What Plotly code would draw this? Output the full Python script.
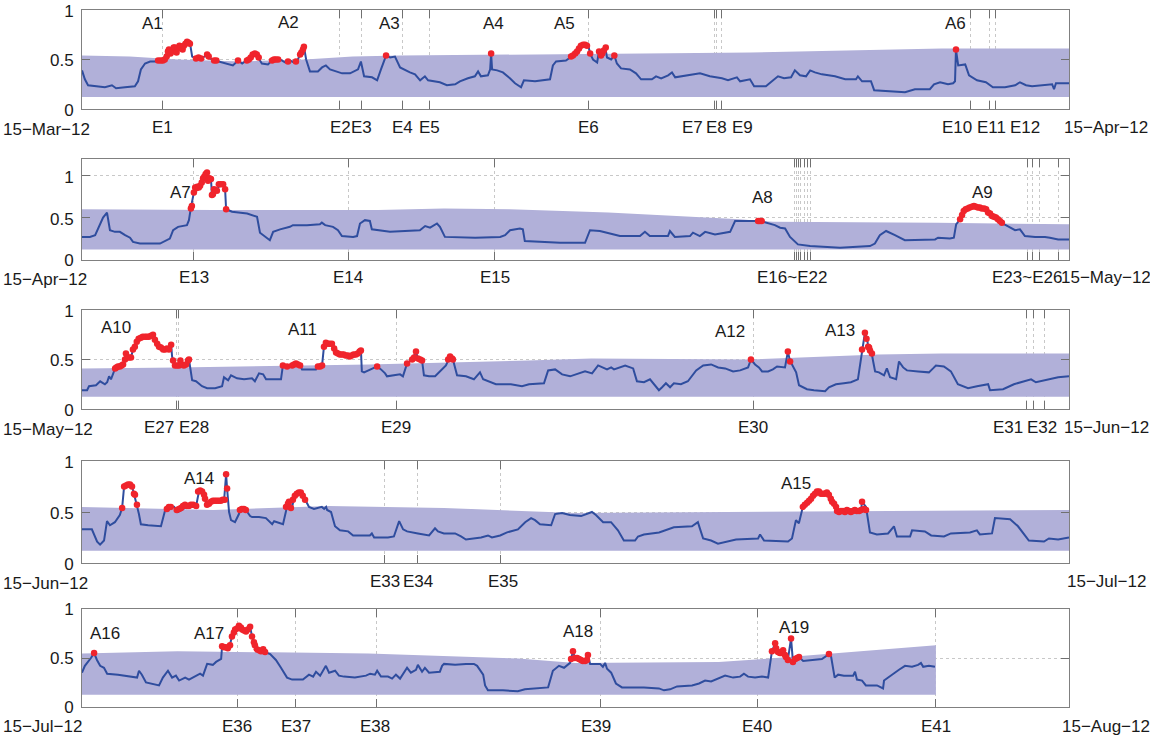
import plotly.graph_objects as go

FONT = "Liberation Sans, Arial, sans-serif"
TXT_C = "#1a1a1a"
LINE_C = "#2f4d9e"
BAND_C = "#b1b0d9"
DOT_C = "#f0242c"
AX_C = "#808080"
GRID_C = "#c8c8c8"

# ---------------- Panel 1: 15-Mar-12 .. 15-Apr-12 (days since start) -------------
p1_line = [(0.00,0.39),(0.09,0.30),(0.19,0.24),(0.41,0.23),(0.72,0.22),(0.94,0.24),(1.07,0.21),(1.35,0.22),(1.66,0.23),(1.76,0.28),(1.85,0.40),(1.98,0.46),(2.14,0.48),(2.45,0.48),(2.54,0.50),(2.64,0.55),(2.73,0.60),(2.83,0.57),(2.92,0.62),(3.02,0.60),(3.11,0.64),(3.20,0.62),(3.30,0.68),(3.39,0.67),(3.46,0.53),(3.58,0.51),(3.80,0.52),(3.93,0.55),(4.02,0.51),(4.18,0.49),(4.40,0.47),(4.65,0.45),(4.74,0.44),(4.90,0.49),(5.03,0.46),(5.21,0.50),(5.34,0.53),(5.43,0.56),(5.53,0.52),(5.65,0.46),(5.84,0.45),(6.00,0.50),(6.22,0.50),(6.38,0.47),(6.53,0.49),(6.66,0.47),(6.75,0.48),(6.85,0.55),(6.91,0.58),(6.97,0.63),(7.04,0.50),(7.16,0.38),(7.41,0.38),(7.54,0.42),(7.66,0.44),(7.79,0.40),(7.98,0.38),(8.17,0.36),(8.42,0.36),(8.54,0.38),(8.67,0.40),(8.76,0.48),(8.86,0.33),(9.11,0.32),(9.27,0.29),(9.39,0.40),(9.49,0.50),(9.55,0.54),(9.68,0.52),(9.83,0.53),(9.99,0.42),(10.15,0.39),(10.30,0.37),(10.46,0.35),(10.62,0.29),(10.77,0.33),(10.87,0.29),(11.24,0.27),(11.46,0.24),(11.72,0.25),(11.87,0.28),(12.12,0.31),(12.34,0.33),(12.44,0.38),(12.53,0.33),(12.75,0.34),(12.82,0.40),(12.85,0.56),(12.88,0.40),(13.04,0.39),(13.22,0.37),(13.44,0.31),(13.60,0.26),(13.79,0.22),(13.88,0.29),(14.23,0.28),(14.54,0.29),(14.70,0.30),(14.79,0.44),(14.89,0.48),(15.20,0.49),(15.36,0.52),(15.42,0.54),(15.52,0.57),(15.61,0.60),(15.71,0.63),(15.80,0.65),(15.90,0.64),(15.96,0.56),(16.05,0.50),(16.18,0.47),(16.24,0.59),(16.30,0.54),(16.37,0.57),(16.43,0.63),(16.49,0.52),(16.62,0.50),(16.72,0.54),(16.80,0.46),(16.93,0.41),(17.21,0.40),(17.40,0.36),(17.56,0.30),(17.90,0.30),(18.03,0.33),(18.19,0.31),(18.41,0.34),(18.53,0.37),(18.63,0.32),(19.10,0.34),(19.41,0.36),(19.72,0.33),(20.10,0.31),(20.29,0.29),(20.57,0.32),(20.67,0.28),(20.98,0.30),(21.11,0.23),(21.48,0.23),(21.67,0.28),(21.86,0.33),(22.05,0.31),(22.27,0.32),(22.39,0.39),(22.55,0.34),(22.74,0.33),(22.87,0.39),(23.02,0.37),(23.24,0.35),(23.65,0.33),(23.97,0.30),(24.31,0.30),(24.37,0.33),(24.50,0.28),(24.78,0.28),(24.88,0.19),(25.38,0.18),(25.85,0.17),(26.16,0.20),(26.63,0.20),(26.76,0.25),(26.95,0.27),(27.20,0.25),(27.36,0.26),(27.42,0.28),(27.45,0.60),(27.52,0.44),(27.74,0.45),(27.86,0.34),(28.11,0.29),(28.39,0.27),(28.61,0.22),(28.99,0.22),(29.31,0.24),(29.46,0.27),(29.65,0.24),(29.84,0.23),(30.25,0.24),(30.47,0.25),(30.53,0.20),(30.59,0.26),(31.00,0.26)]
p1_anom = [(2.39,0.49),(2.47,0.49),(2.54,0.49),(2.60,0.50),(2.66,0.53),(2.70,0.58),(2.73,0.60),(2.78,0.56),(2.83,0.58),(2.88,0.62),(2.92,0.62),(2.97,0.57),(3.02,0.61),(3.06,0.64),(3.11,0.63),(3.16,0.60),(3.20,0.64),(3.25,0.66),(3.30,0.68),(3.35,0.67),(3.39,0.66),(3.58,0.51),(3.66,0.52),(3.74,0.51),(3.93,0.55),(3.98,0.53),(4.15,0.49),(4.22,0.49),(4.90,0.49),(5.18,0.49),(5.24,0.50),(5.30,0.52),(5.36,0.55),(5.43,0.56),(5.49,0.55),(5.55,0.52),(5.97,0.49),(6.03,0.50),(6.09,0.50),(6.16,0.50),(6.47,0.48),(6.72,0.48),(6.85,0.55),(6.89,0.57),(6.94,0.60),(6.97,0.63),(9.55,0.54),(12.85,0.56),(15.36,0.53),(15.42,0.54),(15.49,0.56),(15.55,0.58),(15.61,0.61),(15.67,0.64),(15.74,0.65),(15.80,0.65),(15.86,0.64),(15.96,0.56),(16.24,0.58),(16.30,0.54),(16.34,0.56),(16.39,0.59),(16.45,0.62),(16.72,0.54),(27.45,0.60)]
p1_band_t = [0, 1.5, 3, 5, 7, 8.5, 10, 14, 18, 21, 24, 27, 31]
p1_band_hi = [0.54, 0.53, 0.50, 0.48, 0.50, 0.53, 0.54, 0.55, 0.56, 0.57, 0.59, 0.61, 0.61]
p1_band_lo = [0.12, 0.12, 0.12, 0.12, 0.12, 0.12, 0.12, 0.12, 0.12, 0.12, 0.12, 0.12, 0.12]
p1_events = [2.54, 8.10, 8.79, 10.08, 10.90, 15.92, 19.88, 19.94, 20.10, 27.91, 28.50, 28.68]
p1_elabels = [("E1",2.54),("E2",8.12),("E3",8.79),("E4",10.08),("E5",10.90),("E6",15.92),("E7",19.16),("E8",19.94),("E9",20.75),("E10",27.48),("E11",28.55),("E12",29.62)]
p1_alabels = [("A1",2.20,0.86),("A2",6.50,0.87),("A3",9.67,0.86),("A4",12.91,0.865),("A5",15.17,0.86),("A6",27.44,0.86)]

# ---------------- Panel 2: 15-Apr-12 .. 15-May-12 -------------
p2_line = [(0,0.27),(0.24,0.27),(0.40,0.29),(0.55,0.41),(0.64,0.50),(0.76,0.56),(0.85,0.35),(1.00,0.33),(1.15,0.33),(1.31,0.29),(1.46,0.26),(1.55,0.21),(1.76,0.19),(2.37,0.19),(2.46,0.21),(2.67,0.25),(2.77,0.35),(2.92,0.39),(3.19,0.41),(3.25,0.47),(3.31,0.62),(3.40,0.80),(3.50,0.87),(3.59,0.87),(3.68,0.93),(3.74,0.98),(3.80,1.04),(3.83,0.94),(3.92,0.96),(3.95,0.77),(4.04,0.84),(4.10,0.82),(4.19,0.90),(4.32,0.90),(4.35,0.84),(4.38,0.60),(4.56,0.57),(5.02,0.55),(5.32,0.51),(5.41,0.32),(5.56,0.27),(5.71,0.23),(5.81,0.33),(6.02,0.36),(6.32,0.39),(6.41,0.41),(6.84,0.41),(7.23,0.42),(7.29,0.44),(7.39,0.41),(7.63,0.39),(7.78,0.35),(7.90,0.28),(8.24,0.27),(8.36,0.28),(8.45,0.43),(8.60,0.47),(8.75,0.46),(8.81,0.36),(9.06,0.35),(9.36,0.33),(10.27,0.35),(10.43,0.40),(10.58,0.38),(10.79,0.43),(10.88,0.39),(11.03,0.27),(11.95,0.26),(12.71,0.27),(12.86,0.29),(13.01,0.35),(13.31,0.37),(13.40,0.36),(13.46,0.22),(14.53,0.20),(15.29,0.20),(15.44,0.35),(15.74,0.34),(16.35,0.28),(16.96,0.28),(17.11,0.33),(17.26,0.28),(17.81,0.28),(17.87,0.34),(18.02,0.27),(18.48,0.28),(18.57,0.32),(18.78,0.28),(18.94,0.33),(19.24,0.30),(19.70,0.33),(19.85,0.46),(20.30,0.46),(20.52,0.46),(20.70,0.45),(21.06,0.41),(21.22,0.38),(21.37,0.37),(21.52,0.27),(21.76,0.18),(22.13,0.16),(23.04,0.14),(23.95,0.16),(24.10,0.19),(24.25,0.29),(24.44,0.34),(24.71,0.29),(25.01,0.23),(25.93,0.24),(26.02,0.26),(26.38,0.25),(26.50,0.26),(26.57,0.42),(26.69,0.48),(26.75,0.57),(26.90,0.60),(27.14,0.64),(27.29,0.62),(27.45,0.61),(27.60,0.56),(27.78,0.50),(27.96,0.43),(28.08,0.41),(28.36,0.35),(28.51,0.36),(28.66,0.28),(28.97,0.27),(29.27,0.27),(29.42,0.26),(29.67,0.24),(30.00,0.24)]
p2_anom = [(3.31,0.61),(3.34,0.64),(3.40,0.80),(3.44,0.86),(3.47,0.85),(3.50,0.87),(3.55,0.86),(3.59,0.88),(3.64,0.92),(3.68,0.97),(3.72,0.99),(3.76,1.02),(3.80,1.04),(3.83,0.94),(3.87,0.97),(3.92,0.96),(3.95,0.77),(3.98,0.78),(4.01,0.84),(4.05,0.83),(4.10,0.82),(4.16,0.90),(4.22,0.90),(4.29,0.90),(4.35,0.84),(4.38,0.60),(20.55,0.46),(20.60,0.46),(20.66,0.46),(26.69,0.48),(26.75,0.53),(26.80,0.58),(26.86,0.60),(26.92,0.61),(26.98,0.62),(27.05,0.63),(27.11,0.64),(27.17,0.63),(27.23,0.62),(27.29,0.62),(27.35,0.61),(27.42,0.61),(27.48,0.60),(27.54,0.56),(27.60,0.55),(27.66,0.52),(27.72,0.51),(27.78,0.50),(27.84,0.48),(27.90,0.46),(27.96,0.44)]
p2_band_t = [0, 4, 9, 11, 13, 16, 20, 21, 26, 30]
p2_band_hi = [0.60, 0.59, 0.59, 0.61, 0.60, 0.56, 0.48, 0.45, 0.44, 0.42]
p2_band_lo = [0.12, 0.12, 0.12, 0.12, 0.12, 0.12, 0.12, 0.12, 0.12, 0.12]
p2_events = [3.40, 8.09, 12.55, 21.67, 21.73, 21.79, 21.85, 21.95, 22.04, 22.13, 28.75, 28.88, 29.09, 29.67]
p2_elabels = [("E13",3.40),("E14",8.09),("E15",12.55),("E16~E22",21.58),("E23~E26",28.72)]
p2_alabels = [("A7",2.98,0.80),("A8",20.67,0.74),("A9",27.36,0.80)]

# ---------------- Panel 3: 15-May-12 .. 15-Jun-12 -------------
p3_line = [(0,0.19),(0.16,0.19),(0.22,0.23),(0.44,0.24),(0.57,0.28),(0.72,0.25),(0.79,0.27),(0.85,0.33),(0.91,0.30),(1.04,0.41),(1.19,0.43),(1.32,0.46),(1.38,0.56),(1.44,0.52),(1.54,0.52),(1.60,0.60),(1.66,0.63),(1.76,0.70),(1.88,0.73),(2.07,0.73),(2.26,0.75),(2.36,0.66),(2.48,0.63),(2.61,0.60),(2.70,0.61),(2.80,0.65),(2.83,0.53),(2.89,0.45),(3.02,0.44),(3.09,0.49),(3.17,0.44),(3.30,0.44),(3.36,0.50),(3.46,0.29),(3.58,0.28),(3.77,0.23),(3.93,0.21),(4.18,0.21),(4.40,0.23),(4.46,0.32),(4.59,0.29),(4.68,0.34),(4.87,0.31),(5.09,0.30),(5.34,0.31),(5.43,0.28),(5.56,0.36),(5.69,0.35),(5.78,0.30),(6.25,0.30),(6.31,0.44),(6.44,0.43),(6.60,0.43),(6.72,0.46),(6.85,0.44),(6.91,0.40),(7.35,0.40),(7.41,0.43),(7.54,0.44),(7.60,0.63),(7.66,0.67),(7.88,0.66),(7.95,0.60),(8.04,0.56),(8.35,0.54),(8.57,0.53),(8.76,0.60),(8.79,0.38),(8.86,0.37),(9.05,0.40),(9.17,0.42),(9.27,0.43),(9.39,0.40),(9.52,0.36),(9.58,0.33),(9.74,0.34),(9.99,0.35),(10.08,0.33),(10.21,0.46),(10.37,0.50),(10.49,0.58),(10.55,0.51),(10.68,0.49),(10.74,0.34),(10.90,0.33),(11.09,0.33),(11.24,0.38),(11.43,0.44),(11.56,0.53),(11.65,0.50),(11.78,0.34),(12.06,0.33),(12.31,0.30),(12.50,0.37),(12.60,0.30),(12.75,0.28),(13.00,0.25),(13.47,0.25),(13.69,0.24),(13.82,0.23),(14.04,0.25),(14.51,0.26),(14.64,0.39),(14.86,0.40),(15.08,0.35),(15.33,0.33),(15.80,0.38),(16.02,0.36),(16.21,0.44),(16.49,0.40),(16.62,0.42),(16.71,0.40),(17.06,0.44),(17.31,0.41),(17.43,0.28),(17.65,0.27),(17.84,0.30),(18.12,0.19),(18.22,0.22),(18.34,0.26),(18.47,0.22),(18.59,0.26),(18.81,0.25),(19.03,0.28),(19.29,0.39),(19.51,0.44),(19.76,0.45),(19.98,0.42),(20.20,0.41),(20.45,0.38),(20.67,0.39),(20.92,0.42),(21.01,0.50),(21.14,0.45),(21.26,0.42),(21.36,0.38),(21.55,0.38),(21.70,0.40),(21.83,0.43),(22.08,0.42),(22.17,0.58),(22.24,0.48),(22.30,0.45),(22.43,0.37),(22.52,0.24),(22.77,0.20),(22.99,0.19),(23.34,0.18),(23.46,0.22),(23.68,0.25),(23.93,0.26),(24.15,0.27),(24.37,0.30),(24.50,0.60),(24.59,0.77),(24.66,0.71),(24.69,0.63),(24.75,0.59),(24.81,0.55),(24.85,0.48),(24.91,0.38),(25.03,0.37),(25.19,0.34),(25.28,0.41),(25.38,0.32),(25.57,0.30),(25.66,0.48),(25.79,0.42),(25.91,0.39),(26.26,0.38),(26.60,0.37),(26.73,0.41),(26.82,0.44),(27.07,0.43),(27.29,0.38),(27.51,0.25),(27.83,0.21),(28.11,0.23),(28.46,0.25),(28.52,0.19),(28.93,0.20),(29.27,0.25),(29.81,0.30),(29.96,0.27),(30.43,0.30),(30.66,0.32),(31.00,0.33)]
p3_anom = [(1.04,0.41),(1.08,0.42),(1.13,0.43),(1.19,0.43),(1.24,0.44),(1.29,0.45),(1.35,0.50),(1.38,0.56),(1.42,0.52),(1.48,0.52),(1.54,0.52),(1.60,0.60),(1.66,0.63),(1.72,0.68),(1.78,0.71),(1.85,0.72),(1.91,0.73),(1.98,0.73),(2.04,0.73),(2.10,0.73),(2.17,0.74),(2.23,0.75),(2.29,0.70),(2.36,0.66),(2.42,0.63),(2.48,0.62),(2.55,0.60),(2.61,0.60),(2.67,0.61),(2.73,0.60),(2.80,0.65),(2.86,0.49),(2.92,0.44),(2.99,0.44),(3.05,0.44),(3.09,0.49),(3.13,0.45),(3.20,0.44),(3.27,0.45),(3.33,0.49),(3.36,0.50),(6.31,0.44),(6.44,0.43),(6.60,0.44),(6.66,0.45),(6.72,0.46),(6.78,0.45),(6.85,0.44),(7.41,0.43),(7.48,0.43),(7.54,0.44),(7.60,0.63),(7.66,0.67),(7.72,0.66),(7.78,0.66),(7.85,0.66),(7.92,0.61),(7.98,0.57),(8.04,0.56),(8.10,0.55),(8.16,0.55),(8.22,0.55),(8.28,0.54),(8.35,0.54),(8.41,0.53),(8.47,0.54),(8.53,0.55),(8.60,0.55),(8.66,0.56),(8.72,0.58),(8.76,0.59),(9.27,0.43),(10.21,0.46),(10.37,0.50),(10.43,0.52),(10.49,0.58),(10.55,0.51),(10.62,0.50),(10.68,0.49),(11.50,0.50),(11.56,0.53),(11.62,0.51),(11.65,0.50),(21.01,0.50),(22.17,0.58),(22.24,0.48),(24.50,0.60),(24.59,0.77),(24.64,0.71),(24.69,0.63),(24.72,0.62),(24.75,0.59),(24.81,0.56)]
p3_band_t = [0, 3, 9, 12, 14, 16, 21, 25, 27, 31]
p3_band_hi = [0.41, 0.42, 0.45, 0.47, 0.49, 0.51, 0.50, 0.55, 0.56, 0.56]
p3_band_lo = [0.125, 0.125, 0.125, 0.125, 0.125, 0.125, 0.125, 0.125, 0.125, 0.125]
p3_events = [2.97, 3.02, 9.88, 21.08, 29.68, 29.90, 30.24]
p3_elabels = [("E27",2.42),("E28",3.52),("E29",9.86),("E30",21.08),("E31",29.09),("E32",30.15)]
p3_alabels = [("A10",1.08,0.82),("A11",6.94,0.80),("A12",20.35,0.78),("A13",23.81,0.79)]

# ---------------- Panel 4: 15-Jun-12 .. 15-Jul-12 -------------
p4_line = [(0,0.33),(0.30,0.33),(0.46,0.21),(0.55,0.18),(0.67,0.22),(0.70,0.30),(0.76,0.41),(0.85,0.37),(1.00,0.40),(1.15,0.47),(1.22,0.54),(1.28,0.75),(1.40,0.76),(1.44,0.78),(1.52,0.75),(1.58,0.68),(1.67,0.57),(1.73,0.48),(1.79,0.38),(2.01,0.37),(2.40,0.36),(2.46,0.43),(2.52,0.51),(2.61,0.54),(2.80,0.55),(2.92,0.50),(3.01,0.52),(3.13,0.54),(3.25,0.56),(3.34,0.55),(3.47,0.56),(3.56,0.71),(3.68,0.70),(3.74,0.63),(3.80,0.57),(3.92,0.59),(3.98,0.61),(4.32,0.62),(4.38,0.87),(4.41,0.73),(4.47,0.50),(4.53,0.42),(4.65,0.40),(4.77,0.48),(4.80,0.52),(4.98,0.52),(5.11,0.46),(5.17,0.45),(5.38,0.45),(5.59,0.44),(5.78,0.38),(5.84,0.41),(6.11,0.38),(6.23,0.55),(6.29,0.60),(6.38,0.54),(6.44,0.63),(6.50,0.68),(6.63,0.69),(6.72,0.66),(6.78,0.62),(6.90,0.55),(7.05,0.53),(7.29,0.55),(7.36,0.53),(7.42,0.55),(7.45,0.52),(7.57,0.50),(7.69,0.36),(7.84,0.32),(8.09,0.31),(8.24,0.27),(8.75,0.27),(8.81,0.29),(8.88,0.25),(9.30,0.25),(9.48,0.26),(9.64,0.41),(9.76,0.33),(9.88,0.31),(10.21,0.29),(10.55,0.27),(10.73,0.34),(10.82,0.31),(11.00,0.29),(11.34,0.29),(11.52,0.26),(11.67,0.23),(12.13,0.25),(12.34,0.27),(12.46,0.25),(12.71,0.27),(12.92,0.30),(13.25,0.33),(13.47,0.40),(13.65,0.44),(13.77,0.42),(13.92,0.38),(14.26,0.37),(14.38,0.48),(14.59,0.49),(14.83,0.47),(15.17,0.46),(15.50,0.50),(15.62,0.47),(15.84,0.40),(16.08,0.40),(16.29,0.32),(16.47,0.22),(16.81,0.22),(16.90,0.26),(17.08,0.28),(17.54,0.30),(17.75,0.32),(17.99,0.35),(18.54,0.36),(18.72,0.40),(18.78,0.34),(18.88,0.24),(19.12,0.22),(19.33,0.19),(19.88,0.23),(20.55,0.24),(20.61,0.28),(20.73,0.22),(21.46,0.21),(21.58,0.24),(21.70,0.42),(21.79,0.39),(21.91,0.55),(22.04,0.59),(22.16,0.63),(22.37,0.70),(22.52,0.69),(22.70,0.69),(22.83,0.60),(22.89,0.58),(22.98,0.51),(23.19,0.51),(23.28,0.53),(23.53,0.51),(23.68,0.52),(23.71,0.60),(23.83,0.55),(23.95,0.30),(24.16,0.28),(24.50,0.29),(24.68,0.36),(24.77,0.26),(25.17,0.26),(25.23,0.32),(25.62,0.31),(25.81,0.27),(26.20,0.26),(26.41,0.29),(26.99,0.30),(27.20,0.32),(27.29,0.28),(27.66,0.29),(27.75,0.44),(28.21,0.43),(28.45,0.36),(28.78,0.22),(29.24,0.21),(29.39,0.24),(29.67,0.23),(30.00,0.25)]
p4_anom = [(1.22,0.54),(1.28,0.75),(1.34,0.76),(1.40,0.77),(1.46,0.77),(1.52,0.75),(1.58,0.68),(1.61,0.67),(1.67,0.57),(2.58,0.53),(2.64,0.55),(2.70,0.55),(2.88,0.52),(2.95,0.53),(3.01,0.54),(3.07,0.56),(3.13,0.57),(3.19,0.56),(3.25,0.56),(3.31,0.57),(3.38,0.57),(3.47,0.56),(3.53,0.70),(3.59,0.71),(3.65,0.70),(3.71,0.67),(3.74,0.63),(3.80,0.57),(3.86,0.58),(3.92,0.60),(3.98,0.61),(4.04,0.61),(4.10,0.61),(4.16,0.61),(4.22,0.61),(4.28,0.62),(4.34,0.62),(4.38,0.87),(4.41,0.73),(4.80,0.52),(4.86,0.53),(4.92,0.53),(4.98,0.52),(6.20,0.55),(6.26,0.58),(6.29,0.60),(6.35,0.54),(6.41,0.62),(6.47,0.66),(6.53,0.68),(6.59,0.69),(6.65,0.69),(6.71,0.66),(6.78,0.62),(21.91,0.55),(21.97,0.57),(22.04,0.59),(22.10,0.61),(22.16,0.63),(22.22,0.66),(22.28,0.68),(22.34,0.70),(22.40,0.70),(22.46,0.68),(22.52,0.68),(22.58,0.68),(22.64,0.69),(22.70,0.67),(22.76,0.63),(22.80,0.60),(22.86,0.58),(22.92,0.55),(22.95,0.51),(23.01,0.50),(23.07,0.51),(23.13,0.51),(23.19,0.50),(23.25,0.52),(23.31,0.51),(23.37,0.50),(23.43,0.51),(23.49,0.52),(23.55,0.51),(23.62,0.51),(23.68,0.52),(23.71,0.60),(23.77,0.53),(23.83,0.52)]
p4_band_t = [0, 4, 7.5, 11, 15, 21, 30]
p4_band_hi = [0.55, 0.52, 0.56, 0.54, 0.49, 0.50, 0.52]
p4_band_lo = [0.12, 0.12, 0.12, 0.12, 0.12, 0.12, 0.12]
p4_events = [9.20, 10.21, 12.71]
p4_elabels = [("E33",9.21),("E34",10.21),("E35",12.80)]
p4_alabels = [("A14",3.56,0.83),("A15",21.70,0.78)]

# ---------------- Panel 5: 15-Jul-12 .. 15-Aug-12 -------------
p5_line = [(0,0.35),(0.09,0.42),(0.28,0.50),(0.38,0.55),(0.47,0.48),(0.57,0.42),(0.69,0.40),(0.79,0.34),(1.13,0.33),(1.48,0.31),(1.73,0.30),(1.79,0.37),(1.88,0.33),(2.01,0.25),(2.29,0.23),(2.42,0.22),(2.54,0.30),(2.70,0.37),(2.83,0.30),(2.95,0.32),(3.05,0.27),(3.24,0.30),(3.36,0.28),(3.58,0.32),(3.71,0.34),(3.80,0.32),(3.93,0.44),(4.11,0.43),(4.21,0.46),(4.37,0.49),(4.40,0.62),(4.62,0.60),(4.71,0.72),(4.81,0.78),(4.93,0.83),(5.03,0.79),(5.15,0.76),(5.28,0.82),(5.34,0.72),(5.43,0.63),(5.56,0.58),(5.69,0.58),(5.75,0.56),(5.91,0.54),(6.09,0.48),(6.25,0.40),(6.44,0.30),(6.60,0.28),(6.94,0.28),(7.13,0.33),(7.26,0.31),(7.35,0.36),(7.48,0.32),(7.66,0.42),(7.76,0.35),(7.95,0.37),(8.07,0.32),(8.23,0.31),(8.57,0.30),(8.92,0.32),(9.05,0.34),(9.20,0.33),(9.27,0.37),(9.39,0.31),(9.61,0.31),(9.74,0.29),(9.86,0.33),(9.99,0.29),(10.08,0.34),(10.21,0.40),(10.33,0.35),(10.49,0.38),(10.55,0.43),(10.68,0.36),(10.77,0.40),(10.90,0.35),(11.24,0.36),(11.31,0.42),(11.37,0.44),(11.72,0.43),(12.06,0.44),(12.31,0.44),(12.41,0.42),(12.60,0.33),(12.66,0.22),(12.75,0.17),(13.22,0.17),(13.69,0.16),(13.91,0.18),(14.26,0.19),(14.64,0.20),(14.79,0.37),(14.98,0.42),(15.14,0.40),(15.33,0.45),(15.42,0.57),(15.48,0.50),(15.55,0.50),(15.64,0.48),(15.77,0.47),(15.89,0.53),(15.96,0.44),(16.27,0.44),(16.36,0.41),(16.43,0.45),(16.49,0.39),(16.62,0.35),(16.77,0.24),(16.96,0.20),(17.65,0.20),(18.12,0.19),(18.28,0.17),(18.47,0.18),(18.69,0.21),(19.16,0.22),(19.38,0.24),(19.57,0.27),(19.76,0.26),(19.98,0.29),(20.20,0.32),(20.45,0.30),(20.67,0.31),(20.79,0.34),(20.92,0.31),(21.14,0.30),(21.36,0.31),(21.55,0.30),(21.67,0.57),(21.77,0.65),(21.86,0.56),(21.96,0.55),(22.02,0.58),(22.11,0.51),(22.17,0.48),(22.27,0.70),(22.33,0.46),(22.43,0.50),(22.52,0.51),(22.65,0.47),(22.87,0.48),(23.24,0.49),(23.46,0.54),(23.53,0.51),(23.64,0.30),(23.75,0.33),(23.93,0.32),(24.22,0.32),(24.28,0.36),(24.34,0.28),(24.50,0.27),(24.62,0.22),(24.97,0.22),(25.16,0.19),(25.19,0.27),(25.32,0.30),(25.50,0.35),(25.66,0.38),(25.85,0.42),(26.07,0.41),(26.26,0.43),(26.35,0.45),(26.42,0.41),(26.60,0.42),(26.79,0.41)]
p5_anom = [(0.38,0.55),(4.40,0.62),(4.46,0.61),(4.52,0.61),(4.58,0.60),(4.65,0.63),(4.71,0.72),(4.77,0.76),(4.81,0.79),(4.87,0.80),(4.93,0.83),(4.99,0.81),(5.03,0.79),(5.09,0.78),(5.15,0.77),(5.21,0.79),(5.28,0.82),(5.34,0.72),(5.40,0.66),(5.43,0.63),(5.49,0.59),(5.56,0.58),(5.62,0.57),(5.69,0.59),(5.75,0.56),(15.36,0.49),(15.42,0.57),(15.48,0.50),(15.55,0.50),(15.61,0.49),(15.67,0.48),(15.73,0.47),(15.80,0.47),(15.86,0.48),(15.89,0.53),(21.67,0.57),(21.77,0.65),(21.80,0.60),(21.86,0.56),(21.92,0.55),(21.96,0.55),(22.02,0.58),(22.08,0.53),(22.11,0.51),(22.17,0.48),(22.27,0.70),(22.33,0.46),(22.40,0.49),(22.46,0.50),(22.52,0.51),(23.46,0.54)]
p5_band_t = [0, 3, 9, 13.7, 15.5, 20, 21.4, 23.5, 26.82]
p5_band_hi = [0.545, 0.57, 0.545, 0.495, 0.45, 0.46, 0.49, 0.545, 0.63]
p5_band_lo = [0.125, 0.125, 0.125, 0.125, 0.125, 0.125, 0.125, 0.125, 0.125]
p5_events = [4.87, 6.72, 9.25, 16.29, 21.22, 26.82]
p5_elabels = [("E36",4.87),("E37",6.72),("E38",9.20),("E39",16.14),("E40",21.20),("E41",26.82)]
p5_alabels = [("A16",0.72,0.75),("A17",3.99,0.75),("A18",15.58,0.77),("A19",22.36,0.81)]

panel_span = [31, 30, 31, 30, 31]
panel_ymax = [1.0, 1.2, 1.0, 1.0, 1.0]
panel_start = ["15\u2212Mar\u221212", "15\u2212Apr\u221212", "15\u2212May\u221212", "15\u2212Jun\u221212", "15\u2212Jul\u221212"]
panel_end = ["15\u2212Apr\u221212", "15\u2212May\u221212", "15\u2212Jun\u221212", "15\u2212Jul\u221212", "15\u2212Aug\u221212"]
y_ticks = [0, 0.5, 1]
y_ticktext = ["0", "0.5", "1"]

# layout geometry (paper fractions of the plotting area)
W, H = 1150, 736
ML, MR, MT, MB = 82, 81, 10, 29
PH = H - MT - MB
panel_px = [(10, 109), (159, 259.5), (310, 409), (461, 563), (609, 707)]
domains = [[(H - MB - b) / PH, (H - MB - t) / PH] for t, b in panel_px]
# vertical offsets of the texts under each axis (px): event labels, start date, y tick label shift
label_shift = [-18, -18, -18, -18, -19.5]
start_shift = [-20, -20, -20, -20, -19.5]
ytick_shift = [1, 1, 1, 1, 0]

panels = [
    (p1_line, p1_anom, p1_band_t, p1_band_hi, p1_band_lo, p1_events, p1_elabels, p1_alabels),
    (p2_line, p2_anom, p2_band_t, p2_band_hi, p2_band_lo, p2_events, p2_elabels, p2_alabels),
    (p3_line, p3_anom, p3_band_t, p3_band_hi, p3_band_lo, p3_events, p3_elabels, p3_alabels),
    (p4_line, p4_anom, p4_band_t, p4_band_hi, p4_band_lo, p4_events, p4_elabels, p4_alabels),
    (p5_line, p5_anom, p5_band_t, p5_band_hi, p5_band_lo, p5_events, p5_elabels, p5_alabels),
]

fig = go.Figure()
annotations = []
layout_axes = {}
tfont = dict(family=FONT, size=17, color=TXT_C)

for i, (line, anom, bt, bhi, blo, events, elabels, alabels) in enumerate(panels):
    k = i + 1
    xa = "x" if k == 1 else f"x{k}"
    ya = "y" if k == 1 else f"y{k}"
    span = panel_span[i]
    # band
    fig.add_trace(go.Scatter(
        x=list(bt) + list(bt)[::-1], y=list(bhi) + list(blo)[::-1],
        fill="toself", fillcolor=BAND_C, mode="lines", line=dict(width=0),
        hoverinfo="skip", showlegend=False, xaxis=xa, yaxis=ya))
    # series
    fig.add_trace(go.Scatter(x=[p[0] for p in line], y=[p[1] for p in line], mode="lines",
                             line=dict(color=LINE_C, width=2),
                             showlegend=False, xaxis=xa, yaxis=ya))
    # anomalies
    fig.add_trace(go.Scatter(x=[p[0] for p in anom], y=[p[1] for p in anom],
                             mode="markers", marker=dict(color=DOT_C, size=6.5, line=dict(width=0)),
                             showlegend=False, xaxis=xa, yaxis=ya))
    xkey = "xaxis" if k == 1 else f"xaxis{k}"
    ykey = "yaxis" if k == 1 else f"yaxis{k}"
    layout_axes[xkey] = dict(
        domain=[0, 1], range=[0, span], anchor=ya, automargin=False,
        tickmode="array", tickvals=events, ticktext=[""] * len(events),
        showticklabels=False, ticks="inside", ticklen=8, tickcolor="#707070", tickwidth=1,
        showline=True, linecolor=AX_C, linewidth=1, mirror="ticks",
        showgrid=True, gridcolor=GRID_C, griddash="dot", gridwidth=1, zeroline=False)
    layout_axes[ykey] = dict(
        domain=domains[i], range=[0, panel_ymax[i]], anchor=xa, automargin=False,
        tickmode="array", tickvals=y_ticks, ticktext=y_ticktext, tickfont=tfont,
        ticks="inside", ticklen=8, tickcolor="#707070", tickwidth=1,
        showline=True, linecolor=AX_C, linewidth=1, mirror="ticks",
        showgrid=True, gridcolor=GRID_C, griddash="dot", gridwidth=1, zeroline=False,
        ticklabelstandoff=4, ticklabelshift=ytick_shift[i])
    # event labels under the axis
    for name, xpos in elabels:
        annotations.append(dict(x=xpos, y=0, xref=xa, yref=f"{ya} domain", text=name,
                                showarrow=False, xanchor="center", yanchor="middle",
                                yshift=label_shift[i], font=tfont))
    # start / end dates (placed just outside the axis, in axis-domain units)
    annotations.append(dict(x=-0.0821, y=0, xref=f"{xa} domain", yref=f"{ya} domain",
                            text=panel_start[i], showarrow=False, xanchor="left",
                            yanchor="middle", yshift=start_shift[i], font=tfont))
    annotations.append(dict(x=1.0375, y=0, xref=f"{xa} domain", yref=f"{ya} domain",
                            text=panel_end[i], showarrow=False, xanchor="center",
                            yanchor="middle", yshift=label_shift[i], font=tfont))
    # anomaly labels
    for name, xpos, ypos in alabels:
        annotations.append(dict(x=xpos, y=ypos, xref=xa, yref=ya, text=name,
                                showarrow=False, xanchor="center", yanchor="middle",
                                font=tfont))

fig.update_layout(
    width=W, height=H,
    margin=dict(l=ML, r=MR, t=MT, b=MB, pad=0, autoexpand=False),
    paper_bgcolor="white", plot_bgcolor="white",
    font=tfont, showlegend=False,
    annotations=annotations,
    **layout_axes)

fig.write_html("out.html")
